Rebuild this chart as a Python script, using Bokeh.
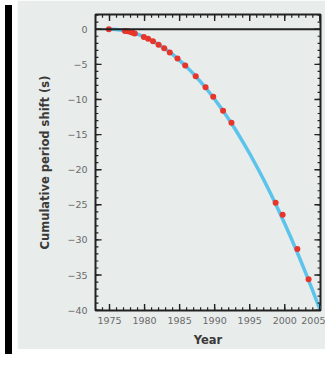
import math
from bokeh.plotting import figure
from bokeh.models import Range1d, FixedTicker, Span, Div
from bokeh.layouts import row
from bokeh.embed import file_html
from bokeh.resources import INLINE

# Theoretical curve
curve_years = [1975, 1976, 1977, 1978, 1979, 1980, 1981, 1982, 1983, 1984, 1985,
               1986, 1987, 1988, 1989, 1990, 1991, 1992, 1993, 1994, 1995,
               1996, 1997, 1998, 1999, 2000, 2001, 2002, 2003, 2004, 2005]
curve_shift = [0.0, -0.04, -0.18, -0.40, -0.71, -1.11, -1.59, -2.17, -2.84, -3.59, -4.43,
               -5.36, -6.38, -7.49, -8.68, -9.97, -11.34, -12.80, -14.35, -15.99, -17.72,
               -19.54, -21.44, -23.43, -25.52, -27.69, -29.95, -32.29, -34.73, -37.26, -39.87]

# Observed points
obs_years = [1974.9, 1977.2, 1977.6, 1978.0, 1978.3, 1978.6, 1979.9, 1980.5, 1981.2,
             1982.0, 1982.8, 1983.6, 1984.7, 1985.8, 1987.3, 1988.7, 1989.8, 1991.2,
             1992.4, 1998.7, 1999.7, 2001.8, 2003.4]
obs_shift = [0.0, -0.25, -0.3, -0.4, -0.5, -0.6, -1.1, -1.35, -1.7,
             -2.2, -2.7, -3.3, -4.15, -5.15, -6.7, -8.25, -9.6, -11.6,
             -13.3, -24.7, -26.4, -31.3, -35.6]

x_ticks = [1975, 1980, 1985, 1990, 1995, 2000, 2005]
x_minor = list(range(1973, 2006))
y_ticks = [0, -5, -10, -15, -20, -25, -30, -35, -40]
y_minor = list(range(-40, 3))
y_tick_labels = ["0", "\u22125", "\u221210", "\u221215", "\u221220", "\u221225", "\u221230", "\u221235", "\u221240"]

BG = "#e8ecea"
FONT = "DejaVu Sans"
TICK = "#222222"

xr = Range1d(1973.0, 2005.1)
yr = Range1d(-40.05, 2.1)

p = figure(width=308, height=349, output_backend="svg", toolbar_location=None,
           x_range=xr, y_range=yr,
           min_border_left=78, min_border_right=5, min_border_top=14, min_border_bottom=39,
           background_fill_color=BG, border_fill_color=BG,
           outline_line_color="#222222", outline_line_width=2)
p.grid.visible = False

p.add_layout(Span(location=0, dimension="width", line_color="#222222", line_width=2))

p.line(curve_years, curve_shift, line_color="#5cc3ec", line_width=3.5)
p.scatter(obs_years, obs_shift, size=6, fill_color="#e8352b", line_color=None)

# inward-pointing ticks on all four sides (segments from the frame edge)
def ticks_x(vals, frac, width):
    n = len(vals)
    span = yr.end - yr.start
    p.segment(x0=vals, y0=[yr.start] * n, x1=vals, y1=[yr.start + frac * span] * n,
              line_color=TICK, line_width=width)
    p.segment(x0=vals, y0=[yr.end] * n, x1=vals, y1=[yr.end - frac * span] * n,
              line_color=TICK, line_width=width)

def ticks_y(vals, frac, width):
    n = len(vals)
    span = xr.end - xr.start
    p.segment(x0=[xr.start] * n, y0=vals, x1=[xr.start + frac * span] * n, y1=vals,
              line_color=TICK, line_width=width)
    p.segment(x0=[xr.end] * n, y0=vals, x1=[xr.end - frac * span] * n, y1=vals,
              line_color=TICK, line_width=width)

# fractions of the frame: about 3 px (minor) and 6 px (major)
ticks_x(x_minor, 0.011, 1.2)
ticks_x(x_ticks, 0.022, 1.4)
ticks_y(y_minor, 0.013, 1.2)
ticks_y(y_ticks, 0.027, 1.4)

for ax in (p.xaxis[0], p.yaxis[0]):
    ax.axis_line_color = None
    ax.major_tick_in = 0
    ax.major_tick_out = 0
    ax.minor_tick_in = 0
    ax.minor_tick_out = 0
    ax.major_tick_line_color = None
    ax.minor_tick_line_color = None
    ax.major_label_text_font = FONT
    ax.major_label_text_font_size = "9.5px"
    ax.major_label_text_color = "#6a6a6a"
    ax.axis_label_text_font = FONT
    ax.axis_label_text_font_size = "11.5px"
    ax.axis_label_text_font_style = "bold"
    ax.axis_label_text_color = "#3a3a3a"

p.xaxis.ticker = FixedTicker(ticks=x_ticks, minor_ticks=x_minor)
p.yaxis.ticker = FixedTicker(ticks=y_ticks, minor_ticks=y_minor)
p.xaxis.axis_label = "Year"
p.yaxis.axis_label = "Cumulative period shift (s)"
p.yaxis.major_label_overrides = {t: l for t, l in zip(y_ticks, y_tick_labels)}
p.xaxis.major_label_standoff = 6
p.yaxis.major_label_standoff = 8
p.xaxis.axis_label_standoff = 6
p.yaxis.axis_label_standoff = 12

strip = Div(text="", width=7, height=349, styles={"background-color": "#000000"})
layout = row(strip, p, spacing=0)

open("out.html", "w").write(file_html(layout, INLINE))
